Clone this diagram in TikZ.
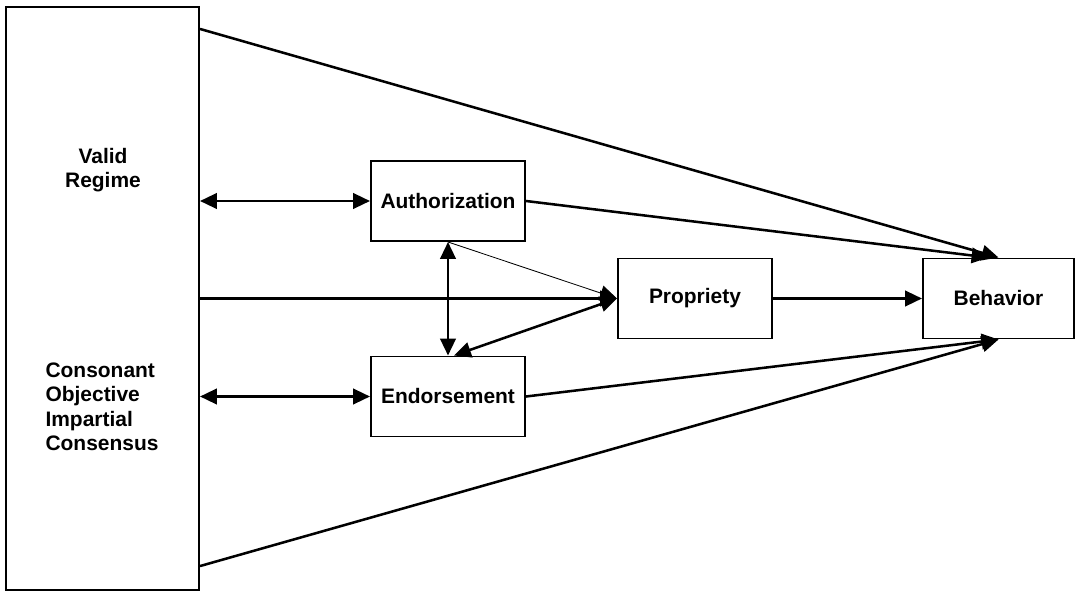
\documentclass[tikz,border=0pt]{standalone}
\usepackage{fontspec}
\setmainfont{Liberation Sans}
\usetikzlibrary{arrows.meta,calc}

\tikzset{
  lbl/.style={font=\bfseries\fontsize{14.9}{17.4}\selectfont, inner sep=0pt},
  box/.style={lbl, draw, line width=1.4pt, minimum width=3.85cm, minimum height=2cm},
  link/.style={line width=1.8pt, -{Triangle[length=12pt,width=11pt]}},
  twoway/.style={line width=1.8pt, {Triangle[length=12pt,width=11pt]}-{Triangle[length=12pt,width=11pt]}},
  thinlink/.style={line width=0.6pt, -{Triangle[length=12pt,width=11pt]}}
}

\begin{document}
\begin{tikzpicture}[x=0.025cm, y=-0.025cm]
		\useasboundingbox (0,0) rectangle (1077,591);
		
		% boxes
		\node[box, minimum width=4.825cm, minimum height=14.575cm] (regime) at (102.5,298.5) {};
		\node[lbl, align=center] (valid) at (103,170) {Valid\\Regime};
		\node[lbl, align=left] (consensus) at (102,407) {Consonant\\Objective\\Impartial\\Consensus};
		\node[box] (auth) at (448,201) {Authorization};
		\node[box] (endorse) at (448,396.5) {Endorsement};
		\node[box] (propriety) at (695,298.5) {Propriety};
		\node[box, minimum width=3.775cm] (behavior) at (998.5,298.5) {Behavior};
		
		\coordinate (topout) at ($(regime.north east)+(0,23)$);
		\coordinate (botout) at ($(regime.south east)+(0,-25)$);
		
		% links
		\draw[twoway] (regime.east |- auth) -- (auth.west);
		\draw[twoway] (regime.east |- endorse) -- (endorse.west);
		\draw[link] (regime.east |- propriety) -- (propriety.west);
		\draw[twoway] (auth.south) -- (endorse.north);
		\draw[thinlink] (auth.south) -- (propriety.west);
		\draw[twoway] ($(endorse.north)+(6,0)$) -- (propriety.west);
		\draw[link] (propriety.east) -- (behavior.west);
		\draw[link] (topout) -- (behavior.north);
		\draw[link] (auth.east) -- ($(behavior.north)+(-10,0)$);
		\draw[link] (endorse.east) -- (behavior.south);
		\draw[link] (botout) -- (behavior.south);
\end{tikzpicture}
\end{document}
